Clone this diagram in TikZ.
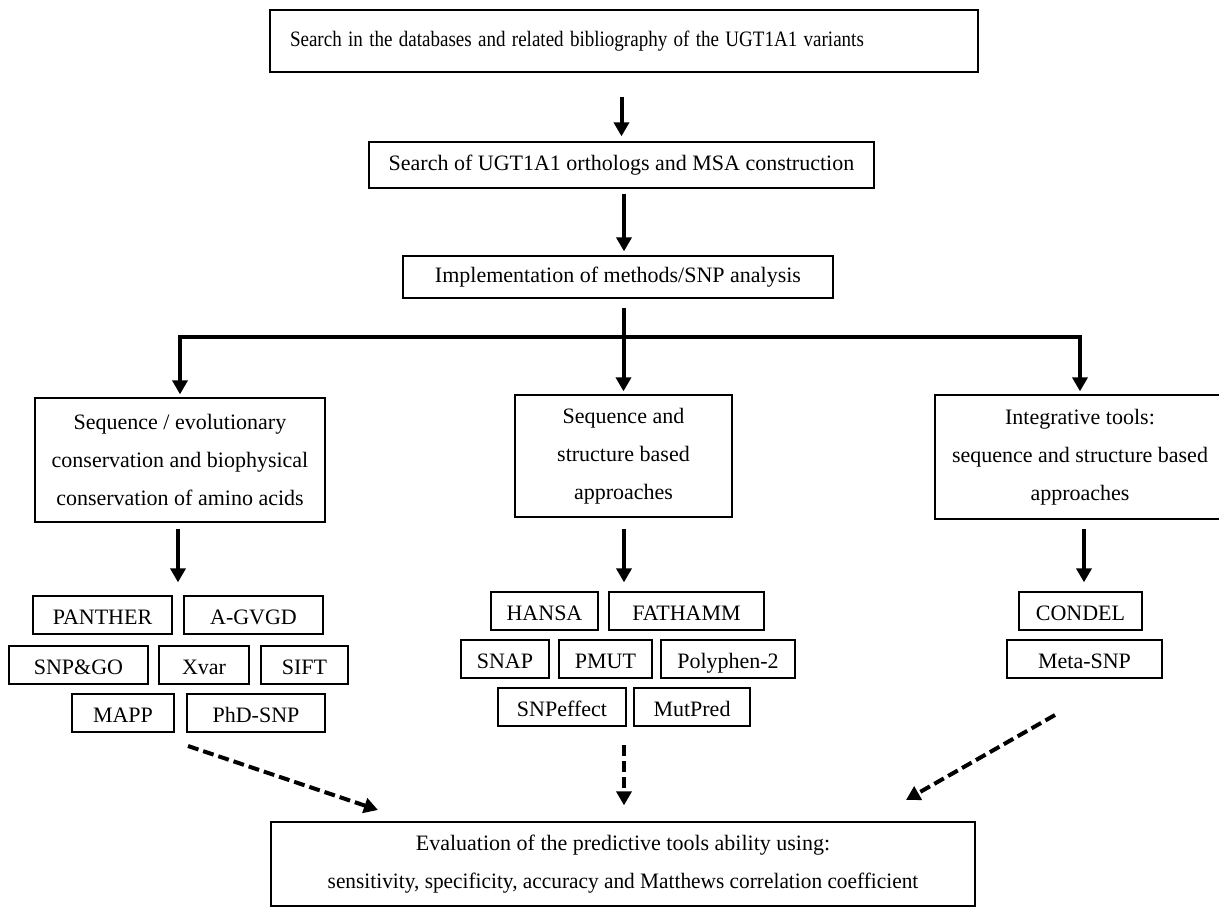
\documentclass[tikz,border=0pt]{standalone}
\usepackage{fontspec}
\setmainfont{Liberation Serif}
\usetikzlibrary{arrows.meta}
\begin{document}
\begin{tikzpicture}[x=1pt,y=-1pt,
  box/.style={draw, line width=1.3pt, inner sep=0pt, align=center, font=\fontsize{22}{38}\selectfont},
  tool/.style={box, minimum height=38pt, text height=19pt, text depth=1pt},
  arr/.style={line width=4pt, -{Triangle[width=15pt,length=14pt]}},
  darr/.style={line width=4pt, dash pattern=on 11pt off 5pt, -{Triangle[width=15pt,length=14pt]}}]
\useasboundingbox (0,0) rectangle (1219,907);
\clip (0,0) rectangle (1219,907);

% main chain
\node[box, minimum height=62pt, text width=668pt, inner xsep=20pt, align=left] (top) at (624,41)
  {\scalebox{0.865}[1]{Search in the databases and related bibliography of the UGT1A1 variants}};
\node[box, minimum width=505pt, minimum height=46pt] (b2) at (621.5,165)
  {Search of UGT1A1 orthologs and MSA construction};
\node[box, minimum width=430pt, minimum height=42pt] (b3) at (618,277)
  {Implementation of methods/SNP analysis};

% three categories
\node[box, minimum width=290pt, minimum height=124pt] (L) at (180,460)
  {Sequence / evolutionary\\conservation and biophysical\\conservation of amino acids};
\node[box, minimum width=217pt, minimum height=122pt] (C) at (623.5,456)
  {Sequence and\\structure based\\approaches};
\node[box, minimum width=290pt, minimum height=124pt] (R) at (1080,457)
  {Integrative tools:\\sequence and structure based\\approaches};

% left tools
\node[tool, minimum width=139pt] (panther) at (102.5,615) {PANTHER};
\node[tool, minimum width=139pt] (agvgd) at (253.5,615) {A-GVGD};
\node[tool, minimum width=139pt] (snpgo) at (78.5,665) {SNP\&GO};
\node[tool, minimum width=90pt] (xvar) at (204,665) {Xvar};
\node[tool, minimum width=87pt] (sift) at (304.5,665) {SIFT};
\node[tool, minimum width=102pt] (mapp) at (123,713) {MAPP};
\node[tool, minimum width=138pt] (phd) at (256,713) {PhD-SNP};

% centre tools
\node[tool, minimum width=107pt] (hansa) at (544.5,611) {HANSA};
\node[tool, minimum width=155pt] (fathmm) at (686.5,611) {FATHAMM};
\node[tool, minimum width=88pt] (snap) at (505,659) {SNAP};
\node[tool, minimum width=93pt] (pmut) at (605.5,659) {PMUT};
\node[tool, minimum width=134pt] (poly) at (728,659) {Polyphen-2};
\node[tool, minimum width=128pt] (snpeff) at (562,707) {SNPeffect};
\node[tool, minimum width=116pt] (mutpred) at (692,707) {MutPred};

% right tools
\node[tool, minimum width=123pt] (condel) at (1080.5,611) {CONDEL};
\node[tool, minimum width=155pt] (meta) at (1084.5,659) {Meta-SNP};

% evaluation
\node[box, minimum width=704pt, minimum height=84pt] (E) at (623,864)
  {Evaluation of the predictive tools ability using:\\\scalebox{0.97}[1]{sensitivity, specificity, accuracy and Matthews correlation coefficient}};

% connectors
\draw[arr, shorten <=24pt, shorten >=5pt] (top.south -| b2.north) -- (b2.north);
\draw[arr, shorten <=5pt, shorten >=4pt] (b2.south -| 624,0) -- (b3.north -| 624,0);
\coordinate (hub) at (623,337);
\draw[line width=4pt, line join=miter, {Triangle[width=15pt,length=14pt]}-{Triangle[width=15pt,length=14pt]}, shorten <=3pt, shorten >=3pt]
  (L.north) |- (hub) -| (R.north);
\draw[arr, shorten <=9pt, shorten >=3pt] (b3.south -| C.north) -- (C.north);

\draw[arr, shorten <=6pt, shorten >=13pt] (L.south -| 178,0) -- (panther.north -| 178,0);
\draw[arr, shorten <=11pt, shorten >=9pt] (C.south -| 624,0) -- (hansa.north -| 624,0);
\draw[arr, shorten <=9pt, shorten >=9pt] (R.south -| 1084,0) -- (condel.north -| 1084,0);

% dashed arrows to evaluation
\coordinate (dl) at (188,746);
\coordinate (dle) at (378,810);
\coordinate (dc) at (624,745);
\coordinate (dr) at (1055,715);
\coordinate (dre) at (906,800);
\draw[darr] (dl) -- (dle);
\draw[darr, shorten >=16pt] (dc) -- (dc |- E.north);
\draw[darr] (dr) -- (dre);
\end{tikzpicture}
\end{document}
